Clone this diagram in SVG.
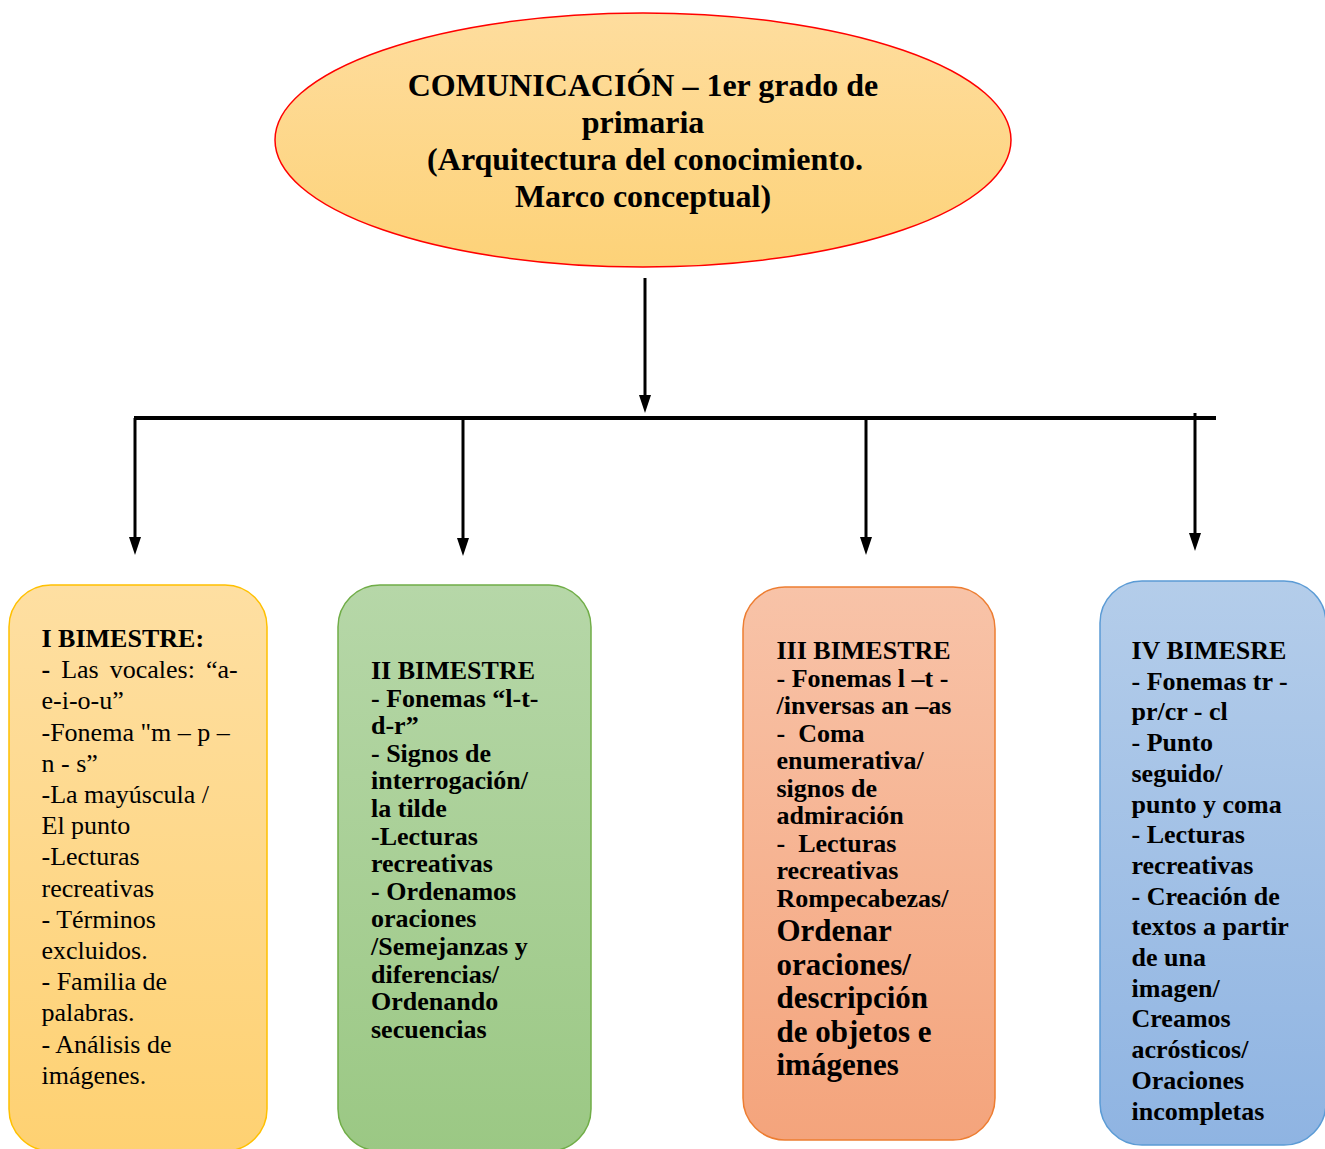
<svg xmlns="http://www.w3.org/2000/svg" width="1325" height="1149" viewBox="0 0 1325 1149">
  <defs>
    <linearGradient id="gEll" x1="0" y1="0" x2="0" y2="1">
      <stop offset="0" stop-color="#fedd9e"/>
      <stop offset="1" stop-color="#fdd278"/>
    </linearGradient>
    <linearGradient id="g1" x1="0" y1="0" x2="0" y2="1">
      <stop offset="0" stop-color="#fedfa2"/>
      <stop offset="1" stop-color="#fed172"/>
    </linearGradient>
    <linearGradient id="g2" x1="0" y1="0" x2="0" y2="1">
      <stop offset="0" stop-color="#b6d7a8"/>
      <stop offset="1" stop-color="#9bc884"/>
    </linearGradient>
    <linearGradient id="g3" x1="0" y1="0" x2="0" y2="1">
      <stop offset="0" stop-color="#f8c3a8"/>
      <stop offset="1" stop-color="#f4a47c"/>
    </linearGradient>
    <linearGradient id="g4" x1="0" y1="0" x2="0" y2="1">
      <stop offset="0" stop-color="#b4cdea"/>
      <stop offset="1" stop-color="#8fb4e2"/>
    </linearGradient>
    <marker id="arr" viewBox="0 0 18 12" refX="8" refY="6" markerWidth="18" markerHeight="12" markerUnits="userSpaceOnUse" orient="auto">
      <path d="M0,0 L18,6 L0,12 z" fill="#000"/>
    </marker>
  </defs>
  <style>
    .t { font-family: "Liberation Serif", "Times New Roman", serif; font-size: 26px; fill: #000; }
    .b { font-weight: bold; }
    .pre { white-space: pre; }
    .title { font-family: "Liberation Serif", "Times New Roman", serif; font-size: 32px; font-weight: bold; fill: #000; text-anchor: middle; }
    .big { font-size: 31px; }
    .conn { stroke: #000; stroke-width: 3; fill: none; }
  </style>
  <rect width="1325" height="1149" fill="#fff"/>

  <g id="connectors">
    <line class="conn" x1="645" y1="278" x2="645" y2="403" marker-end="url(#arr)"/>
    <line class="conn" x1="134" y1="418" x2="1216" y2="418" style="stroke-width:4"/>
    <line class="conn" x1="135" y1="418" x2="135" y2="545" marker-end="url(#arr)"/>
    <line class="conn" x1="463" y1="418" x2="463" y2="546" marker-end="url(#arr)"/>
    <line class="conn" x1="866" y1="418" x2="866" y2="545" marker-end="url(#arr)"/>
    <line class="conn" x1="1195" y1="413" x2="1195" y2="541" marker-end="url(#arr)"/>
  </g>

  <g id="title">
    <ellipse cx="643" cy="140" rx="368" ry="127" fill="url(#gEll)" stroke="#ff0000" stroke-width="1.5"/>
    <text class="title" x="643" y="96">COMUNICACIÓN – 1er grado de</text>
    <text class="title" x="643" y="133">primaria</text>
    <text class="title" x="645" y="170">(Arquitectura del conocimiento.</text>
    <text class="title" x="643" y="207">Marco conceptual)</text>
  </g>

  <g id="bimestre1">
    <rect x="9" y="585" width="258" height="566" rx="42" ry="42" fill="url(#g1)" stroke="#ffc000" stroke-width="1.5"/>
    <text class="t" x="41.5" y="647"><tspan class="b">I BIMESTRE:</tspan></text>
    <text class="t" x="41.5" y="678.2" word-spacing="4.5"><tspan class="b">-</tspan> Las vocales: “a-</text>
    <text class="t" x="41.5" y="709.4">e-i-o-u”</text>
    <text class="t" x="41.5" y="740.6">-Fonema "m – p –</text>
    <text class="t" x="41.5" y="771.8">n - s”</text>
    <text class="t" x="41.5" y="803">-La mayúscula /</text>
    <text class="t" x="41.5" y="834.2">El punto</text>
    <text class="t" x="41.5" y="865.4">-Lecturas</text>
    <text class="t" x="41.5" y="896.6">recreativas</text>
    <text class="t" x="41.5" y="927.8">- Términos</text>
    <text class="t" x="41.5" y="959">excluidos.</text>
    <text class="t" x="41.5" y="990.2">- Familia de</text>
    <text class="t" x="41.5" y="1021.4">palabras.</text>
    <text class="t" x="41.5" y="1052.6">- Análisis de</text>
    <text class="t" x="41.5" y="1083.8">imágenes.</text>
  </g>

  <g id="bimestre2">
    <rect x="338" y="585" width="253" height="566" rx="42" ry="42" fill="url(#g2)" stroke="#70ad47" stroke-width="1.5"/>
    <g class="t b">
      <text x="371" y="679">II BIMESTRE</text>
      <text x="371" y="706.6">- Fonemas “l-t-</text>
      <text x="371" y="734.2">d-r”</text>
      <text x="371" y="761.8">- Signos de</text>
      <text x="371" y="789.4">interrogación/</text>
      <text x="371" y="817">la tilde</text>
      <text x="371" y="844.6">-Lecturas</text>
      <text x="371" y="872.2">recreativas</text>
      <text x="371" y="899.8">- Ordenamos</text>
      <text x="371" y="927.4">oraciones</text>
      <text x="371" y="955">/Semejanzas y</text>
      <text x="371" y="982.6">diferencias/</text>
      <text x="371" y="1010.2">Ordenando</text>
      <text x="371" y="1037.8">secuencias</text>
    </g>
  </g>

  <g id="bimestre3">
    <rect x="743" y="587" width="252" height="553" rx="42" ry="42" fill="url(#g3)" stroke="#ed7d31" stroke-width="1.5"/>
    <g class="t b">
      <text x="776.5" y="659">III BIMESTRE</text>
      <text x="776.5" y="686.5">- Fonemas l –t -</text>
      <text x="776.5" y="714">/inversas an –as</text>
      <text class="pre" x="776.5" y="741.5">-  Coma</text>
      <text x="776.5" y="769">enumerativa/</text>
      <text x="776.5" y="796.5">signos de</text>
      <text x="776.5" y="824">admiración</text>
      <text class="pre" x="776.5" y="851.5">-  Lecturas</text>
      <text x="776.5" y="879">recreativas</text>
      <text x="776.5" y="906.5">Rompecabezas/</text>
      <text class="big" x="776.5" y="941">Ordenar</text>
      <text class="big" x="776.5" y="974.5">oraciones/</text>
      <text class="big" x="776.5" y="1008">descripción</text>
      <text class="big" x="776.5" y="1041.5">de objetos e</text>
      <text class="big" x="776.5" y="1075">imágenes</text>
    </g>
  </g>

  <g id="bimestre4">
    <rect x="1100" y="581" width="226" height="564" rx="42" ry="42" fill="url(#g4)" stroke="#5b9bd5" stroke-width="1.5"/>
    <g class="t b">
      <text x="1131.5" y="659">IV BIMESRE</text>
      <text x="1131.5" y="689.7">- Fonemas tr -</text>
      <text x="1131.5" y="720.4">pr/cr - cl</text>
      <text x="1131.5" y="751.1">- Punto</text>
      <text x="1131.5" y="781.8">seguido/</text>
      <text x="1131.5" y="812.5">punto y coma</text>
      <text x="1131.5" y="843.2">- Lecturas</text>
      <text x="1131.5" y="873.9">recreativas</text>
      <text x="1131.5" y="904.6">- Creación de</text>
      <text x="1131.5" y="935.3">textos a partir</text>
      <text x="1131.5" y="966">de una</text>
      <text x="1131.5" y="996.7">imagen/</text>
      <text x="1131.5" y="1027.4">Creamos</text>
      <text x="1131.5" y="1058.1">acrósticos/</text>
      <text x="1131.5" y="1088.8">Oraciones</text>
      <text x="1131.5" y="1119.5">incompletas</text>
    </g>
  </g>
</svg>
